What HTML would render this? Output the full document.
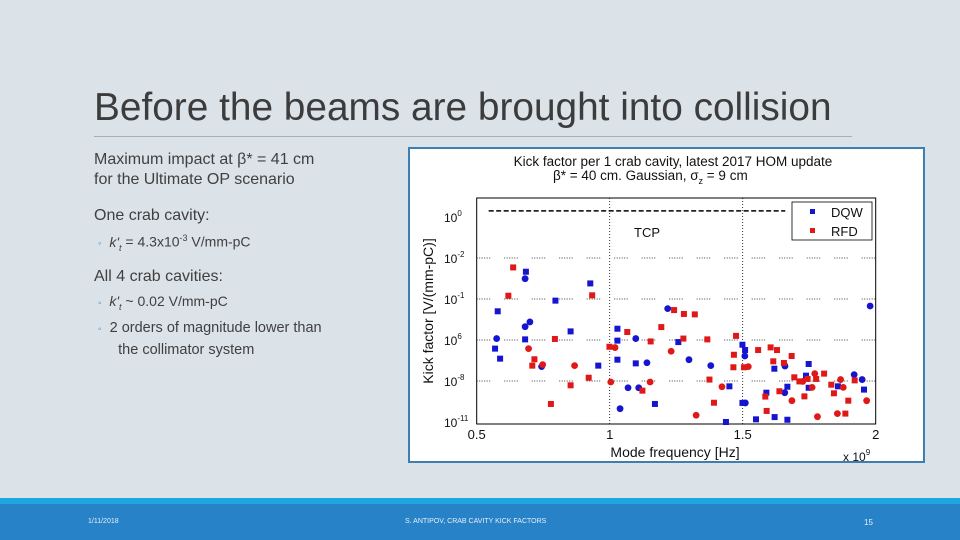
<!DOCTYPE html>
<html><head><meta charset="utf-8"><style>
body{margin:0;width:960px;height:540px;overflow:hidden;background:#dbe2e8;font-family:"Liberation Sans",sans-serif;position:relative}
.t{position:absolute;color:#404040;white-space:nowrap}
</style></head><body>
<div class="t" style="left:94px;top:86px;font-size:38.8px;color:#3c3c3c">Before the beams are brought into collision</div>
<div style="position:absolute;left:94px;top:136px;width:758px;height:1px;background:#a9b0b5"></div>
<div class="t" style="left:94px;top:150px;font-size:16px;line-height:20px">Maximum impact at β* = 41 cm<br>for the Ultimate OP scenario</div>
<div class="t" style="left:94px;top:207px;font-size:16px">One crab cavity:</div>
<div class="t" style="left:98px;top:233px;font-size:14px"><span style="color:#3a8fc8;font-size:10px">◦</span>&nbsp; <i>k'<sub style="font-size:9px">t</sub></i> = 4.3x10<sup style="font-size:9px">-3</sup> V/mm-pC</div>
<div class="t" style="left:94px;top:268px;font-size:16px">All 4 crab cavities:</div>
<div class="t" style="left:98px;top:293px;font-size:14px"><span style="color:#3a8fc8;font-size:10px">◦</span>&nbsp; <i>k'<sub style="font-size:9px">t</sub></i> ~ 0.02 V/mm-pC</div>
<div class="t" style="left:98px;top:318px;font-size:14.5px;line-height:21px"><span style="color:#3a8fc8;font-size:10px">◦</span>&nbsp; 2 orders of magnitude lower than<br>&nbsp;&nbsp;&nbsp;&nbsp; the collimator system</div>

<svg style="position:absolute;left:0;top:0" width="960" height="540" font-family="Liberation Sans, sans-serif">
<rect x="409" y="148" width="515" height="314" fill="#fff" stroke="#3d7fb3" stroke-width="2"/>
<text x="673" y="166" font-size="13.5" text-anchor="middle" fill="#111">Kick factor per 1 crab cavity, latest 2017 HOM update</text>
<text x="553" y="180" font-size="13.5" fill="#111">β* = 40 cm. Gaussian, σ<tspan font-size="9" dy="4">z</tspan><tspan dy="-4"> = 9 cm</tspan></text>
<g id="grid"></g>
<rect x="476.7" y="198" width="399" height="226" fill="none" stroke="#000" stroke-width="1"/>
<g id="axes"></g>
<g id="marks"></g>
<text x="634" y="237" font-size="13" fill="#111">TCP</text>
<rect x="792" y="202" width="80" height="38" fill="#fff" stroke="#000" stroke-width="0.8"/>
<rect x="810" y="209" width="5" height="5" fill="#1515d0"/>
<text x="831" y="217" font-size="13" fill="#111">DQW</text>
<rect x="810" y="228" width="5" height="5" fill="#e01818"/>
<text x="831" y="236" font-size="13" fill="#111">RFD</text>
<text x="675" y="457" font-size="14" text-anchor="middle" fill="#111">Mode frequency [Hz]</text>
<text x="843" y="461" font-size="12" fill="#111">x 10<tspan font-size="8" dy="-6">9</tspan></text>
<text transform="translate(433,311) rotate(-90)" font-size="14" text-anchor="middle" fill="#111">Kick factor [V/(mm-pC)]</text>
</svg>

<div style="position:absolute;left:0;top:498px;width:960px;height:6px;background:#1fa6e0"></div>
<div style="position:absolute;left:0;top:504px;width:960px;height:36px;background:#2882c7"></div>
<div class="t" style="left:88px;top:518px;font-size:7px;color:#e6f0f8">1/11/2018</div>
<div class="t" style="left:405px;top:518px;font-size:7px;color:#e6f0f8">S. ANTIPOV, CRAB CAVITY KICK FACTORS</div>
<div class="t" style="left:864px;top:518px;font-size:8px;color:#e6f0f8">15</div>

<script>
const xTicks=[0.5,1,1.5,2];
const xTickLabels=["0.5","1","1.5","2"];
const yTicks=[0,-2,-4,-6,-8,-10];
const yTickExp=["0","-2","-1","6","-8","-11"];
const tcpLevel=0.3;
const dqwFreq=[0.569,0.575,0.588,0.579,0.682,0.685,0.682,0.700,0.682,0.744,0.796,0.853,0.927,0.957,1.029,1.029,1.029,1.069,1.039,1.098,1.098,1.109,1.140,1.170,1.218,1.258,1.298,1.380,1.450,1.437,1.499,1.509,1.508,1.499,1.510,1.550,1.589,1.620,1.619,1.658,1.659,1.668,1.668,1.738,1.748,1.748,1.858,1.919,1.949,1.956,1.979];
const dqwLog=[-6.42,-5.93,-6.91,-4.60,-3.01,-2.67,-5.35,-5.12,-5.97,-7.30,-4.08,-5.58,-3.24,-7.25,-5.45,-6.03,-6.96,-8.33,-9.35,-5.93,-7.14,-8.33,-7.11,-9.12,-4.47,-6.10,-6.96,-7.25,-8.26,-10.0,-6.23,-6.49,-6.78,-9.07,-9.07,-9.87,-8.57,-9.76,-7.40,-8.57,-7.27,-8.28,-9.89,-7.74,-7.17,-8.33,-8.26,-7.69,-7.93,-8.42,-4.34];
const dqwShape="scsscsccsc"+"sssssssccc"+"sccscsccss"+"sscscssssc"+"cssssssccsc";
const rfdFreq=[0.637,0.619,0.695,0.717,0.709,0.748,0.794,0.868,0.853,0.921,0.934,0.779,0.999,1.020,1.004,1.066,1.123,1.152,1.154,1.194,1.231,1.242,1.279,1.320,1.277,1.325,1.367,1.375,1.392,1.422,1.467,1.465,1.475,1.505,1.521,1.558,1.585,1.590,1.605,1.615,1.629,1.638,1.655,1.685,1.684,1.694,1.713,1.726,1.732,1.744,1.761,1.771,1.781,1.776,1.806,1.833,1.843,1.856,1.868,1.878,1.886,1.897,1.921,1.966];
const rfdLog=[-2.46,-3.84,-6.42,-6.94,-7.25,-7.20,-5.95,-7.25,-8.21,-7.84,-3.82,-9.12,-6.33,-6.37,-8.05,-5.61,-8.47,-8.05,-6.07,-5.37,-6.55,-4.54,-4.73,-4.75,-5.93,-9.67,-5.97,-7.93,-9.06,-8.28,-6.72,-7.33,-5.80,-7.33,-7.30,-6.49,-8.76,-9.46,-6.36,-7.04,-6.49,-8.50,-7.12,-8.96,-6.78,-7.82,-8.02,-8.02,-8.75,-7.90,-8.31,-7.64,-9.74,-7.90,-7.64,-8.18,-8.60,-9.59,-7.93,-8.31,-9.59,-8.96,-7.97,-8.96];
const rfdShape="sscsscscss"+"sssccsscss"+"csssscsssc"+"sssscsssss"+"ssscssscss"+"cccssssccc"+"sssc";

const NS="http://www.w3.org/2000/svg";
const X=f=>476.7+(f-0.5)/1.5*399;
const Y=l=>217-l*20.5;
function mk(tag,attrs,parent){const e=document.createElementNS(NS,tag);for(const k in attrs)e.setAttribute(k,attrs[k]);parent.appendChild(e);return e;}
const grid=document.getElementById('grid'),axes=document.getElementById('axes'),marks=document.getElementById('marks');
xTicks.forEach((t,i)=>{
  if(i>0&&i<xTicks.length-1){const g=mk('line',{x1:X(t),x2:X(t),y1:198,y2:424,stroke:'#000','stroke-width':0.8,'stroke-dasharray':'1,2'},grid);
  
  }
  const tx=mk('text',{x:X(t),y:439,'font-size':13,'text-anchor':'middle',fill:'#111'},axes);tx.textContent=xTickLabels[i];
  
  
});
yTicks.forEach((t,i)=>{
  if(i>0&&i<yTicks.length-1){const g=mk('line',{x1:476.7,x2:875.7,y1:Y(t),y2:Y(t),stroke:'#000','stroke-width':0.8,'stroke-dasharray':'1,1.5,1,1.5,1,1.5,1,1.5,1,1.5,1,14'},grid);
  
  }
  const tx=mk('text',{x:444,y:Y(t)+5,'font-size':12,fill:'#111'},axes);
  tx.innerHTML='10<tspan font-size="8" dy="-6">'+yTickExp[i]+'</tspan>';
  
  
});
const tcp=mk('line',{x1:X(0.545),x2:X(1.66),y1:Y(tcpLevel),y2:Y(tcpLevel),stroke:'#000','stroke-width':1.5,'stroke-dasharray':'5,2.5'},marks);


function draw(fr,lg,sh,col,name){
  fr.forEach((f,i)=>{
    let e;
    if(sh[i]==='c')e=mk('circle',{cx:X(f),cy:Y(lg[i]),r:3.4,fill:col},marks);
    else e=mk('rect',{x:X(f)-3,y:Y(lg[i])-3,width:6,height:6,fill:col},marks);
    
    
  });
}
draw(dqwFreq,dqwLog,dqwShape,'#1515d0','dqw-point');
draw(rfdFreq,rfdLog,rfdShape,'#e01818','rfd-point');
</script>
</body></html>
